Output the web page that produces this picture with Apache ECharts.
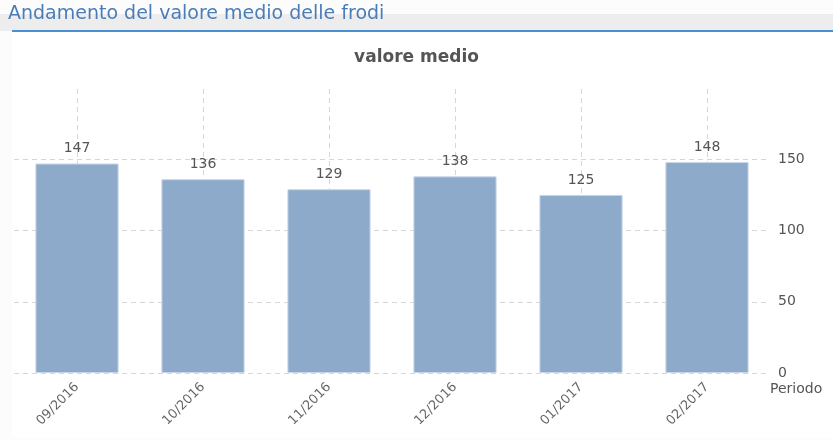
<!DOCTYPE html>
<html>
<head>
<meta charset="utf-8">
<script src="https://cdn.jsdelivr.net/npm/echarts@6/dist/echarts.min.js"></script>
<style>
    html, body { margin: 0; padding: 0; background: #fcfcfc; }
    #chart { width: 833px; height: 440px; }
</style>
</head>
<body>
<div id="chart"></div>
<script>
    var periodi = ['09/2016', '10/2016', '11/2016', '12/2016', '01/2017', '02/2017'];
    var valoreMedio = [147, 136, 129, 138, 125, 148];
    var yTicks = [0, 50, 100, 150, 200];

    var chartDom = document.getElementById('chart');
    var myChart = echarts.init(chartDom);
    var font = 'DejaVu Sans';

    var option = {
        backgroundColor: '#fcfcfc',
        animation: false,
        graphic: [
            // pannello bianco
            { type: 'rect', shape: { x: 12, y: 14, width: 830, height: 424, r: 6 }, style: { fill: '#ffffff' }, z: -10 },
            // barra del titolo
            { type: 'rect', shape: { x: 0, y: 14, width: 833, height: 17 }, style: { fill: '#ededed' }, z: -9 },
            { type: 'rect', shape: { x: 12, y: 30, width: 821, height: 2 }, style: { fill: '#4a8fd4' }, z: -8 },
            {
                type: 'text', left: 8, top: 5, z: -7,
                style: { text: 'Andamento del valore medio delle frodi', fill: '#4a7db8', font: '19px "DejaVu Sans"' }
            }
        ],
        title: {
            text: 'valore medio',
            left: 'center',
            top: 44,
            textStyle: { fontFamily: font, fontSize: 17, fontWeight: 'bold', color: '#555555' }
        },
        grid: { left: 14, right: 63, top: 88, bottom: 67 },
        xAxis: {
            type: 'category',
            data: periodi,
            name: 'Periodo',
            nameLocation: 'end',
            nameGap: 0,
            nameTextStyle: {
                fontFamily: font, fontSize: 14, color: '#555555',
                align: 'left', verticalAlign: 'top', padding: [9, 0, 0, 0]
            },
            axisLine: { show: false },
            axisTick: { show: false },
            axisLabel: { rotate: 45, fontFamily: font, fontSize: 13, color: '#666666', margin: 12 },
            splitLine: { show: false }
        },
        yAxis: {
            type: 'value',
            position: 'right',
            min: 0,
            max: 200,
            interval: 50,
            axisLine: { show: false },
            axisTick: { show: false },
            axisLabel: {
                fontFamily: font, fontSize: 14, color: '#555555', margin: 8,
                formatter: function (v) { return v === 200 ? '' : v; }
            },
            splitLine: {
                show: true,
                lineStyle: {
                    type: [5, 4],
                    color: yTicks.map(function (t) { return t === 200 ? 'rgba(0,0,0,0)' : '#d6d6d6'; })
                }
            }
        },
        series: [
            {
                type: 'bar',
                data: valoreMedio,
                barWidth: '66%',
                z: 2,
                itemStyle: { color: '#8eaacb', borderColor: '#c9d6e6', borderWidth: 1 },
                label: {
                    show: true,
                    position: 'top',
                    distance: 8,
                    fontFamily: font,
                    fontSize: 14,
                    color: '#555555'
                },
                markLine: {
                    z: 1,
                    silent: true,
                    symbol: 'none',
                    label: { show: false },
                    lineStyle: { type: [5, 4], color: '#d6d6d6', width: 1 },
                    data: periodi.map(function (p) { return { xAxis: p }; })
                }
            }
        ]
    };
    myChart.setOption(option);
</script>
</body>
</html>
